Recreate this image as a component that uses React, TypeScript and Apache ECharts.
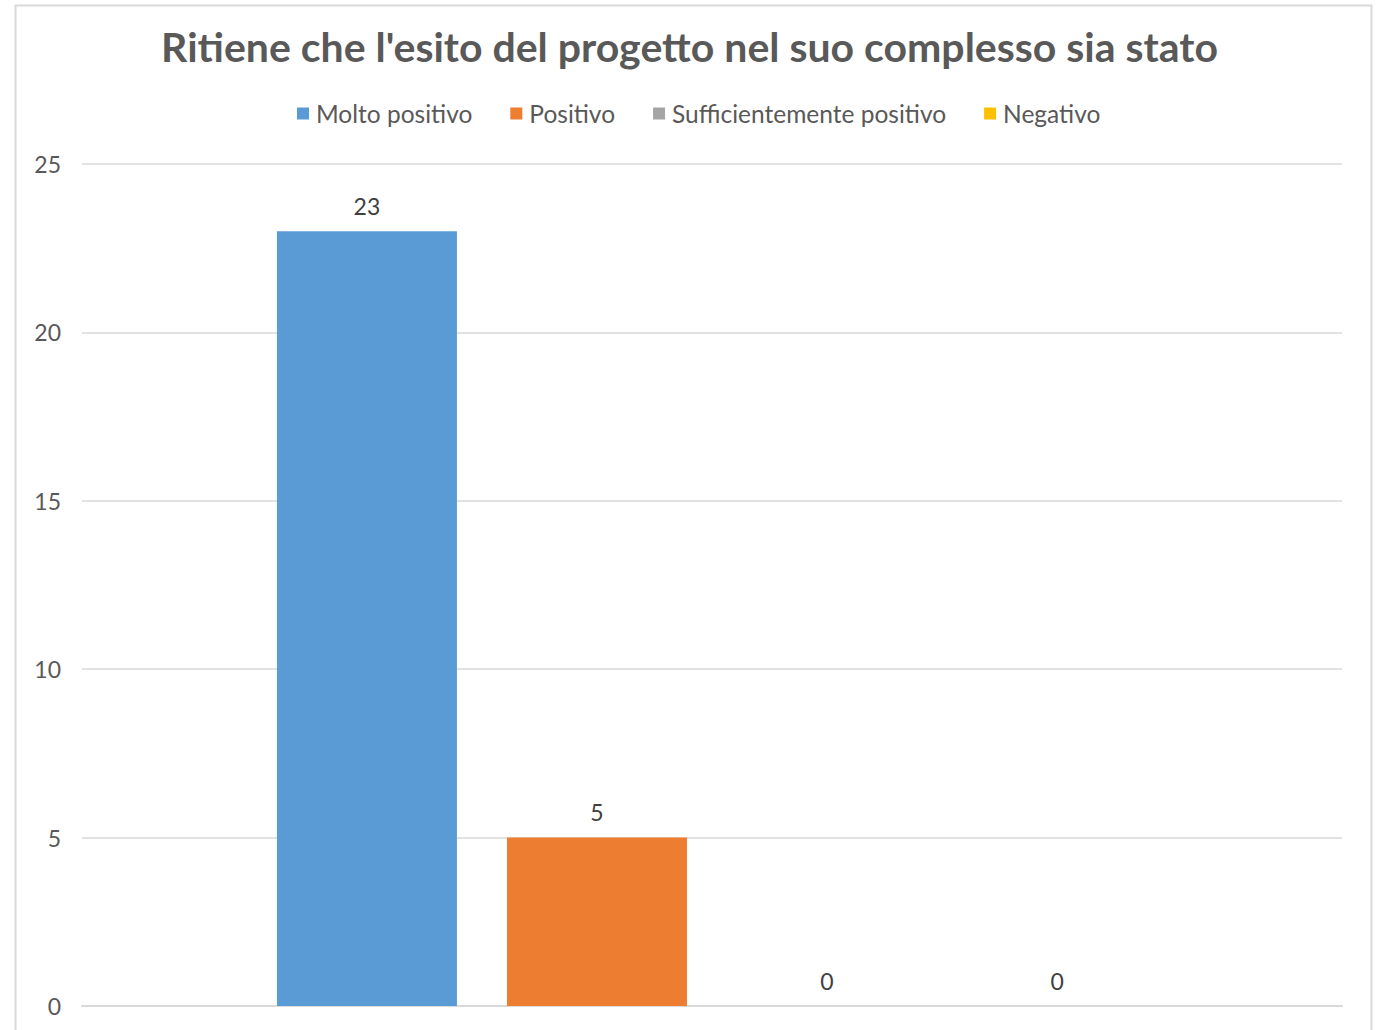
import React, { useEffect, useRef } from "react";
import * as echarts from "echarts";

const seriesNames = ["Molto positivo", "Positivo", "Sufficientemente positivo", "Negativo"];
const seriesValues = [23, 5, 0, 0];
const seriesColors = ["#5B9BD5", "#ED7D31", "#A5A5A5", "#FFC000"];
const categories = [""];
const titleText = "Ritiene che l'esito del progetto nel suo complesso sia stato";

export default function App() {
  const ref = useRef<HTMLDivElement>(null);
  useEffect(() => {
    if (!ref.current) return;
    const chart = echarts.init(ref.current, undefined, { renderer: "svg" });
    const font = "Lato, 'Open Sans', sans-serif";
    chart.setOption({
      animation: false,
      backgroundColor: "#ffffff",
      textStyle: { fontFamily: font },
      graphic: [
        {
          type: "rect",
          shape: { x: 15.5, y: 5.5, width: 1356, height: 1060 },
          style: { fill: "none", stroke: "#d9d9d9", lineWidth: 2 },
          silent: true,
        },
      ],
      title: {
        text: titleText,
        left: "center",
        top: 21,
        textStyle: { fontFamily: font, fontWeight: "bold", fontSize: 41, color: "#595959" },
      },
      legend: {
        top: 96,
        left: 292,
        itemWidth: 12,
        itemHeight: 12,
        itemGap: 38,
        icon: "rect",
        textStyle: { fontFamily: font, fontSize: 24.5, color: "#595959", padding: [0, 0, 0, 2] },
        data: seriesNames,
      },
      grid: { left: 82, right: 37, top: 164, bottom: 24, containLabel: false },
      xAxis: {
        type: "category",
        data: categories,
        axisLine: { show: true, lineStyle: { color: "#d9d9d9", width: 2 } },
        axisTick: { show: false },
        axisLabel: { show: false },
      },
      yAxis: {
        type: "value",
        min: 0,
        max: 25,
        interval: 5,
        axisLine: { show: false },
        axisTick: { show: false },
        axisLabel: { fontFamily: font, fontSize: 23, color: "#595959", margin: 21 },
        splitLine: { lineStyle: { color: "#d9d9d9", width: 1.5 } },
      },
      series: seriesNames.map((name, i) => ({
        name,
        type: "bar",
        data: [seriesValues[i]],
        barWidth: 180,
        barGap: "27.8%",
        itemStyle: { color: seriesColors[i] },
        label: {
          show: true,
          position: "top",
          distance: 14,
          fontFamily: font,
          fontSize: 23,
          color: "#404040",
        },
      })),
    });
    return () => chart.dispose();
  }, []);
  return (
    <div
      ref={ref}
      style={{ position: "fixed", left: 0, top: 0, width: 1379, height: 1030 }}
    />
  );
}
